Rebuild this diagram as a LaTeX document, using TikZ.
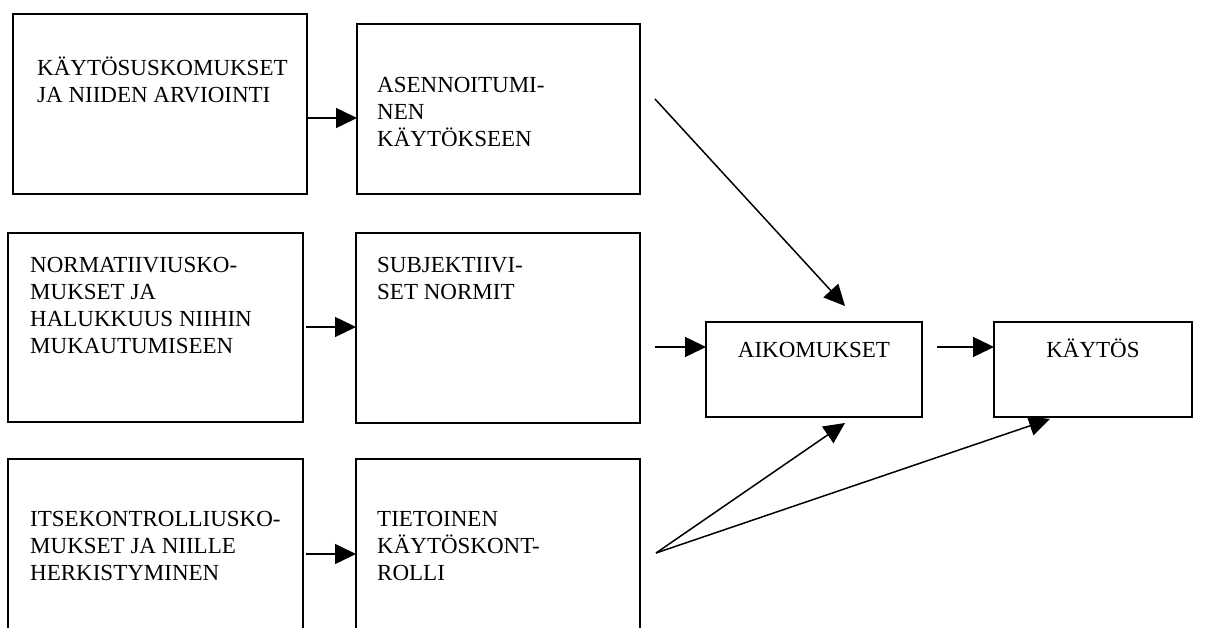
\documentclass[tikz,border=0pt]{standalone}
\usepackage{fontspec}
\setmainfont{Liberation Serif}
\usetikzlibrary{arrows.meta}
\begin{document}
\begin{tikzpicture}[x=1pt,y=-1pt,
 box/.style={draw, line width=1.5pt, inner sep=0pt, outer sep=0pt, anchor=north west},
 txt/.style={font=\fontsize{23}{27}\selectfont, align=left, inner sep=0pt, anchor=north west, execute at begin node=\strut},
 lbl/.style={font=\fontsize{23}{27}\selectfont, inner sep=0pt, anchor=base},
 arr/.style={line width=1.5pt, -{Triangle[length=21pt,width=20pt]}}]
\useasboundingbox (0,0) rectangle (1210,628);
\clip (0,0) rectangle (1210,628);
% boxes
\node[box, minimum width=294pt, minimum height=180pt] (a1) at (13,14) {};
\node[box, minimum width=283pt, minimum height=170pt] (a2) at (357,24) {};
\node[box, minimum width=295pt, minimum height=189pt] (b1) at (8,233) {};
\node[box, minimum width=284pt, minimum height=190pt] (b2) at (356,233) {};
\node[box, minimum width=295pt, minimum height=200pt] (c1) at (8,459) {};
\node[box, minimum width=284pt, minimum height=200pt] (c2) at (356,459) {};
\node[box, minimum width=216pt, minimum height=95pt] (aik) at (706,322) {};
\node[box, minimum width=198pt, minimum height=95pt] (kay) at (994,322) {};
% texts
\node[txt] (a1t) at (37,57) {KÄYTÖSUSKOMUKSET\\JA NIIDEN ARVIOINTI};
\node[txt] (a2t) at (377,77) {ASENNOITUMI-\\NEN\\KÄYTÖKSEEN};
\node[txt] (b1t) at (30,257) {NORMATIIVIUSKO-\\MUKSET JA\\HALUKKUUS NIIHIN\\MUKAUTUMISEEN};
\node[txt] (b2t) at (377,257) {SUBJEKTIIVI-\\SET NORMIT};
\node[txt] (c1t) at (30,511) {ITSEKONTROLLIUSKO-\\MUKSET JA NIILLE\\HERKISTYMINEN};
\node[txt] (c2t) at (377,511) {TIETOINEN\\KÄYTÖSKONT-\\ROLLI};
\node[lbl] (aikt) at (814,357) {AIKOMUKSET};
\node[lbl] (kayt) at (1093,357) {KÄYTÖS};
% connector ends
\coordinate (a2out) at (655,99);
\coordinate (b2out) at (655,347);
\coordinate (c2out) at (656,553);
\coordinate (aikout) at (937,347);
\coordinate (aikin1) at (845,306);
\coordinate (aikin2) at (845,423);
\coordinate (kayin) at (1050,419);
% connectors
\draw[arr] (a1.east |- 0,118) -- (a2.west |- 0,118);
\draw[arr] (306,327) -- (b2.west |- 0,327);
\draw[arr] (306,554) -- (c2.west |- 0,554);
\draw[arr] (b2out) -- (aik.west |- b2out);
\draw[arr] (aikout) -- (kay.west |- aikout);
\draw[arr] (a2out) -- (aikin1);
\draw[arr] (c2out) -- (aikin2);
\draw[arr] (c2out) -- (kayin);
\end{tikzpicture}
\end{document}
